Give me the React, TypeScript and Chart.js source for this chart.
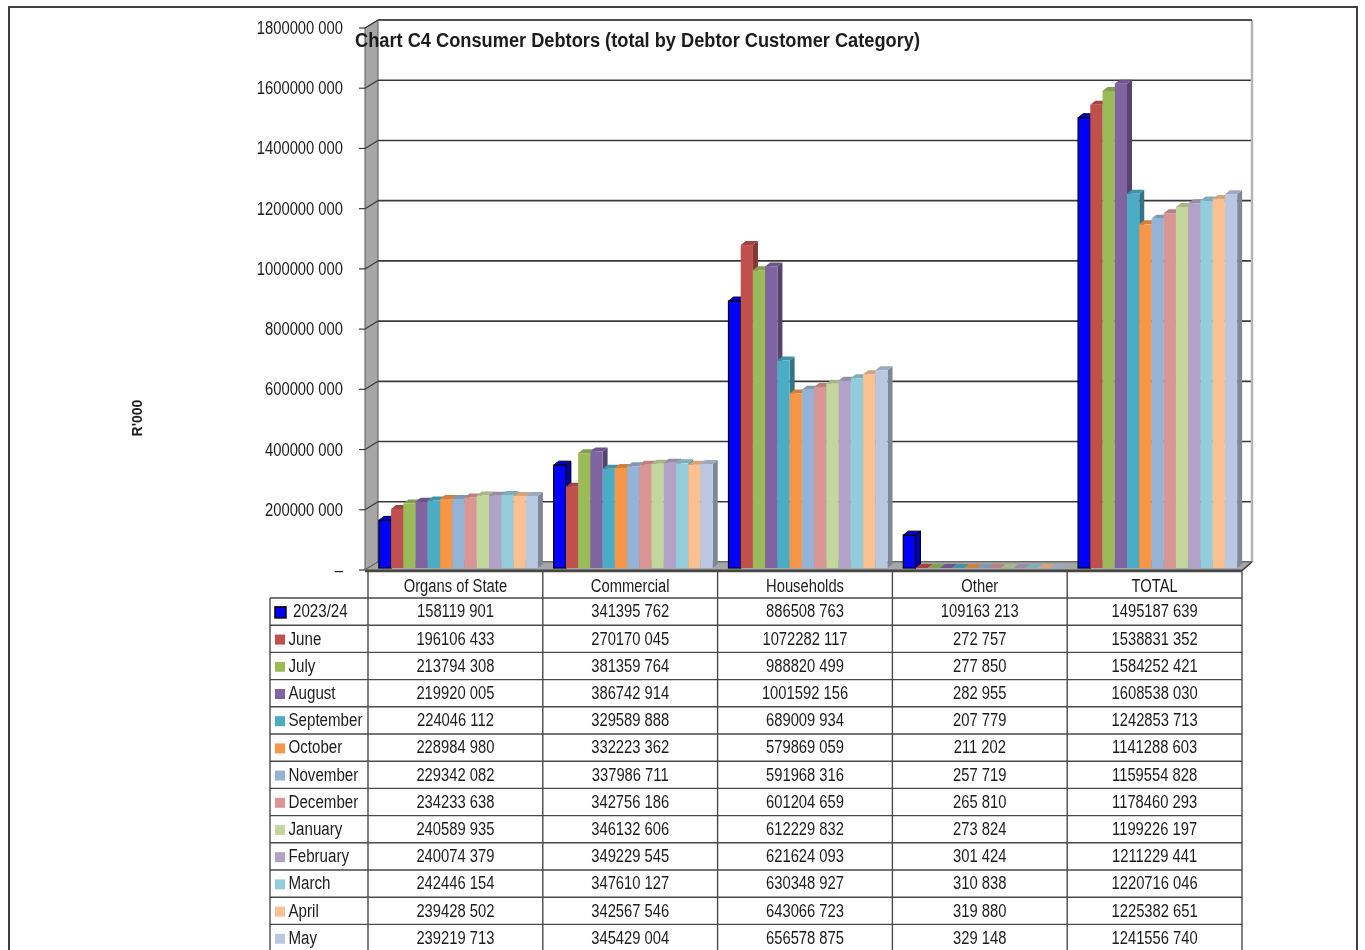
import React, { useEffect, useRef } from 'react';
import { Chart, registerables } from 'chart.js';

Chart.register(...registerables);

// ---------- DATA ----------
const categories = ['Organs of State', 'Commercial', 'Households', 'Other', 'TOTAL'];
const seriesNames = ['2023/24', 'June', 'July', 'August', 'September', 'October', 'November', 'December', 'January', 'February', 'March', 'April', 'May'];
const seriesColors = ['#0000FF', '#C0504D', '#9BBB59', '#8064A2', '#4BACC6', '#F79646', '#95B3D7', '#D99694', '#C3D69B', '#B3A2C7', '#93CDDD', '#FAC090', '#B9C7E0'];

const s2023_24 = [158119901, 341395762, 886508763, 109163213, 1495187639];
const sJune = [196106433, 270170045, 1072282117, 272757, 1538831352];
const sJuly = [213794308, 381359764, 988820499, 277850, 1584252421];
const sAugust = [219920005, 386742914, 1001592156, 282955, 1608538030];
const sSeptember = [224046112, 329589888, 689009934, 207779, 1242853713];
const sOctober = [228984980, 332223362, 579869059, 211202, 1141288603];
const sNovember = [229342082, 337986711, 591968316, 257719, 1159554828];
const sDecember = [234233638, 342756186, 601204659, 265810, 1178460293];
const sJanuary = [240589935, 346132606, 612229832, 273824, 1199226197];
const sFebruary = [240074379, 349229545, 621624093, 301424, 1211229441];
const sMarch = [242446154, 347610127, 630348927, 310838, 1220716046];
const sApril = [239428502, 342567546, 643066723, 319880, 1225382651];
const sMay = [239219713, 345429004, 656578875, 329148, 1241556740];

const seriesValues = [s2023_24, sJune, sJuly, sAugust, sSeptember, sOctober, sNovember, sDecember, sJanuary, sFebruary, sMarch, sApril, sMay];

const yTickLabels = ['–', '200000 000', '400000 000', '600000 000', '800000 000', '1000000 000', '1200000 000', '1400000 000', '1600000 000', '1800000 000'];
const yMax = 1800000000;
const yStep = 200000000;

const titleText = 'Chart C4 Consumer Debtors (total by Debtor Customer Category)';
const yAxisTitle = "R'000";

// ---------- STYLE ----------
const SANS = "'Liberation Sans', Arial, sans-serif";
const NARROW_X = 0.82;
const WX = 10, WY = 8;   // wall depth offset
const BX = 3, BY = 2;    // bar shift into depth
const DX = 5, DY = 4;    // bar depth
const ROW_H = 27.2;
const LEGEND_LEFT = 270;
const TEXT = '#1c1c1c';

const fmt = (v: number) => {
  const hi = Math.floor(v / 1000);
  const lo = String(v % 1000).padStart(3, '0');
  return hi + ' ' + lo;
};

const shade = (hex: string, f: number) => {
  const n = parseInt(hex.slice(1), 16);
  const r = Math.round(((n >> 16) & 255) * f);
  const g = Math.round(((n >> 8) & 255) * f);
  const b = Math.round((n & 255) * f);
  return `rgb(${r},${g},${b})`;
};

const drawNarrow = (ctx: CanvasRenderingContext2D, text: string, x: number, y: number, align: CanvasTextAlign, font: string, sx = NARROW_X) => {
  ctx.save();
  ctx.font = font;
  ctx.textBaseline = 'middle';
  ctx.textAlign = align;
  ctx.fillStyle = TEXT;
  ctx.translate(x, y);
  ctx.scale(sx, 1);
  ctx.fillText(text, 0, 0);
  ctx.restore();
};

const excel3d = {
  id: 'excel3d',
  beforeDatasetsDraw(chart: any) {
    const { ctx, chartArea: a } = chart;
    const y = chart.scales.y;
    const y0 = y.getPixelForValue(0);
    const yT = y.getPixelForValue(yMax);
    const wf = a.left - 3;
    ctx.save();
    // back wall
    ctx.fillStyle = '#ffffff';
    ctx.fillRect(a.left + WX, yT - WY, a.right - a.left, y0 - yT);
    // left wall
    ctx.beginPath();
    ctx.moveTo(wf, y0);
    ctx.lineTo(wf, yT);
    ctx.lineTo(a.left + WX, yT - WY);
    ctx.lineTo(a.left + WX, y0 - WY);
    ctx.closePath();
    ctx.fillStyle = '#a6a6a6';
    ctx.fill();
    ctx.strokeStyle = '#595959';
    ctx.lineWidth = 1;
    ctx.stroke();
    // gridlines, wall diagonals, tick marks, tick labels
    y.ticks.forEach((t: any, idx: number) => {
      const py = y.getPixelForValue(t.value);
      ctx.strokeStyle = '#3a3a3a';
      ctx.beginPath();
      ctx.moveTo(a.left + WX, py - WY);
      ctx.lineTo(a.right + WX, py - WY);
      ctx.lineWidth = 1.6;
      ctx.stroke();
      ctx.beginPath();
      ctx.moveTo(wf, py);
      ctx.lineTo(a.left + WX, py - WY);
      ctx.lineWidth = 1.2;
      ctx.stroke();
      ctx.beginPath();
      ctx.moveTo(wf - 6, py);
      ctx.lineTo(wf, py);
      ctx.lineWidth = 1.2;
      ctx.stroke();
      drawNarrow(ctx, yTickLabels[idx], a.left - 25, py + 1, 'right', `18px ${SANS}`);
    });
    // right edge of back wall
    ctx.beginPath();
    ctx.moveTo(a.right + WX, yT - WY);
    ctx.lineTo(a.right + WX, y0 - WY);
    ctx.strokeStyle = '#b5b5b5';
    ctx.lineWidth = 2.5;
    ctx.stroke();
    // top edge
    ctx.beginPath();
    ctx.moveTo(a.left + WX, yT - WY);
    ctx.lineTo(a.right + WX, yT - WY);
    ctx.strokeStyle = '#505050';
    ctx.lineWidth = 2;
    ctx.stroke();
    // floor
    ctx.beginPath();
    ctx.moveTo(wf, y0);
    ctx.lineTo(a.right, y0);
    ctx.lineTo(a.right + WX, y0 - WY);
    ctx.lineTo(a.left + WX, y0 - WY);
    ctx.closePath();
    ctx.fillStyle = '#a6a6a6';
    ctx.fill();
    ctx.strokeStyle = '#6e6e6e';
    ctx.lineWidth = 1;
    ctx.stroke();
    ctx.beginPath();
    ctx.moveTo(wf, y0 + 0.5);
    ctx.lineTo(a.right, y0 + 0.5);
    ctx.lineTo(a.right + WX, y0 - WY);
    ctx.strokeStyle = '#404040';
    ctx.lineWidth = 1.5;
    ctx.stroke();
    ctx.restore();
  },
  beforeDatasetDraw() {
    return false;
  },
  afterDatasetsDraw(chart: any) {
    const { ctx } = chart;
    ctx.save();
    for (let i = 0; i < seriesValues.length; i++) {
      const meta = chart.getDatasetMeta(i);
      const col = seriesColors[i];
      meta.data.forEach((bar: any) => {
        const p = bar.getProps(['x', 'y', 'base', 'width'], true);
        const l = p.x - p.width / 2 + BX;
        const r = p.x + p.width / 2 + BX;
        const t = Math.min(p.y, p.base) - BY;
        const b = p.base - BY;
        // side
        ctx.beginPath();
        ctx.moveTo(r, t);
        ctx.lineTo(r + DX, t - DY);
        ctx.lineTo(r + DX, b - DY);
        ctx.lineTo(r, b);
        ctx.closePath();
        ctx.fillStyle = shade(col, 0.68);
        ctx.fill();
        if (i === 0) { ctx.strokeStyle = '#000'; ctx.lineWidth = 1; ctx.stroke(); }
        // top
        ctx.beginPath();
        ctx.moveTo(l, t);
        ctx.lineTo(r, t);
        ctx.lineTo(r + DX, t - DY);
        ctx.lineTo(l + DX, t - DY);
        ctx.closePath();
        ctx.fillStyle = shade(col, 0.85);
        ctx.fill();
        if (i === 0) { ctx.strokeStyle = '#000'; ctx.lineWidth = 1; ctx.stroke(); }
        // front
        ctx.fillStyle = col;
        ctx.fillRect(l, t, r - l, b - t);
        if (i === 0) { ctx.strokeStyle = '#000'; ctx.lineWidth = 1.2; ctx.strokeRect(l, t, r - l, b - t); }
      });
    }
    ctx.restore();
  },
  afterDraw(chart: any) {
    const { ctx, chartArea: a } = chart;
    const x = chart.scales.x;
    const y = chart.scales.y;
    const y0 = y.getPixelForValue(0);
    const colW = (a.right - a.left) / categories.length;
    const headTop = y0 + 1.5;
    const headBot = headTop + 26.5;
    const nRows = seriesNames.length;
    const rowTop = (k: number) => headBot + k * ROW_H;
    const tFont = `18px ${SANS}`;
    ctx.save();

    // table lines
    ctx.strokeStyle = '#4a4a4a';
    ctx.lineWidth = 1.4;
    ctx.beginPath();
    ctx.moveTo(a.left - 3, headTop);
    ctx.lineTo(a.right, headTop);
    for (let k = 0; k <= nRows; k++) {
      ctx.moveTo(LEGEND_LEFT, rowTop(k));
      ctx.lineTo(a.right, rowTop(k));
    }
    ctx.moveTo(LEGEND_LEFT, headBot);
    ctx.lineTo(LEGEND_LEFT, rowTop(nRows));
    for (let c = 0; c <= categories.length; c++) {
      const cx = c < categories.length ? x.getPixelForValue(c) - colW / 2 : x.getPixelForValue(c - 1) + colW / 2;
      ctx.moveTo(cx, headTop);
      ctx.lineTo(cx, rowTop(nRows));
    }
    ctx.stroke();

    // header texts
    categories.forEach((c, ci) => {
      drawNarrow(ctx, c, x.getPixelForValue(ci), (headTop + headBot) / 2 + 2, 'center', tFont);
    });
    // rows
    seriesNames.forEach((name, si) => {
      const cy = rowTop(si) + ROW_H / 2 + 0.8;
      ctx.fillStyle = seriesColors[si];
      if (si === 0) {
        ctx.fillRect(275, cy - 5.5, 11, 11);
        ctx.strokeStyle = '#000';
        ctx.lineWidth = 1.5;
        ctx.strokeRect(275, cy - 5.5, 11, 11);
      } else {
        ctx.fillRect(275, cy - 5, 10, 10);
      }
      drawNarrow(ctx, name, si === 0 ? 293 : 288.5, cy, 'left', tFont, 0.84);
      seriesValues[si].forEach((v, ci) => {
        drawNarrow(ctx, fmt(v), x.getPixelForValue(ci), cy, 'center', tFont);
      });
    });

    // title (fit to the reference span)
    const titleFont = `bold 20px ${SANS}`;
    ctx.font = titleFont;
    const tw = ctx.measureText(titleText).width;
    drawNarrow(ctx, titleText, 355, 41, 'left', titleFont, 565 / tw);

    // y axis title
    ctx.save();
    ctx.translate(138, 418);
    ctx.rotate(-Math.PI / 2);
    ctx.font = `bold 14px ${SANS}`;
    ctx.textAlign = 'center';
    ctx.textBaseline = 'middle';
    ctx.fillStyle = TEXT;
    ctx.fillText(yAxisTitle, 0, 0);
    ctx.restore();

    // outer frame
    ctx.strokeStyle = '#3f3f3f';
    ctx.lineWidth = 2;
    ctx.strokeRect(9, 7, 1348, 1000);
    ctx.restore();
  },
};

export default function App() {
  const ref = useRef<HTMLCanvasElement | null>(null);
  useEffect(() => {
    if (!ref.current) return;
    const chart = new Chart(ref.current, {
      type: 'bar',
      data: {
        labels: categories,
        datasets: seriesNames.map((n, i) => ({
          label: n,
          data: seriesValues[i],
          backgroundColor: seriesColors[i],
          barPercentage: 1.0,
          categoryPercentage: 0.91,
        })),
      },
      options: {
        responsive: false,
        animation: false,
        devicePixelRatio: 1,
        layout: { padding: { left: 0, right: 123, top: 28, bottom: 380 } },
        plugins: { legend: { display: false }, tooltip: { enabled: false }, title: { display: false } },
        scales: {
          x: { display: false },
          y: {
            min: 0,
            max: yMax,
            afterFit: (s: any) => { s.width = 368; },
            ticks: { stepSize: yStep, display: false },
            grid: { display: false, drawTicks: false },
            border: { display: false },
          },
        },
      },
      plugins: [excel3d],
    });
    return () => chart.destroy();
  }, []);
  return (
    <div style={{ position: 'absolute', left: 0, top: 0, width: 1365, height: 950, background: '#fff' }}>
      <canvas ref={ref} width={1365} height={950} style={{ display: 'block' }} />
    </div>
  );
}
